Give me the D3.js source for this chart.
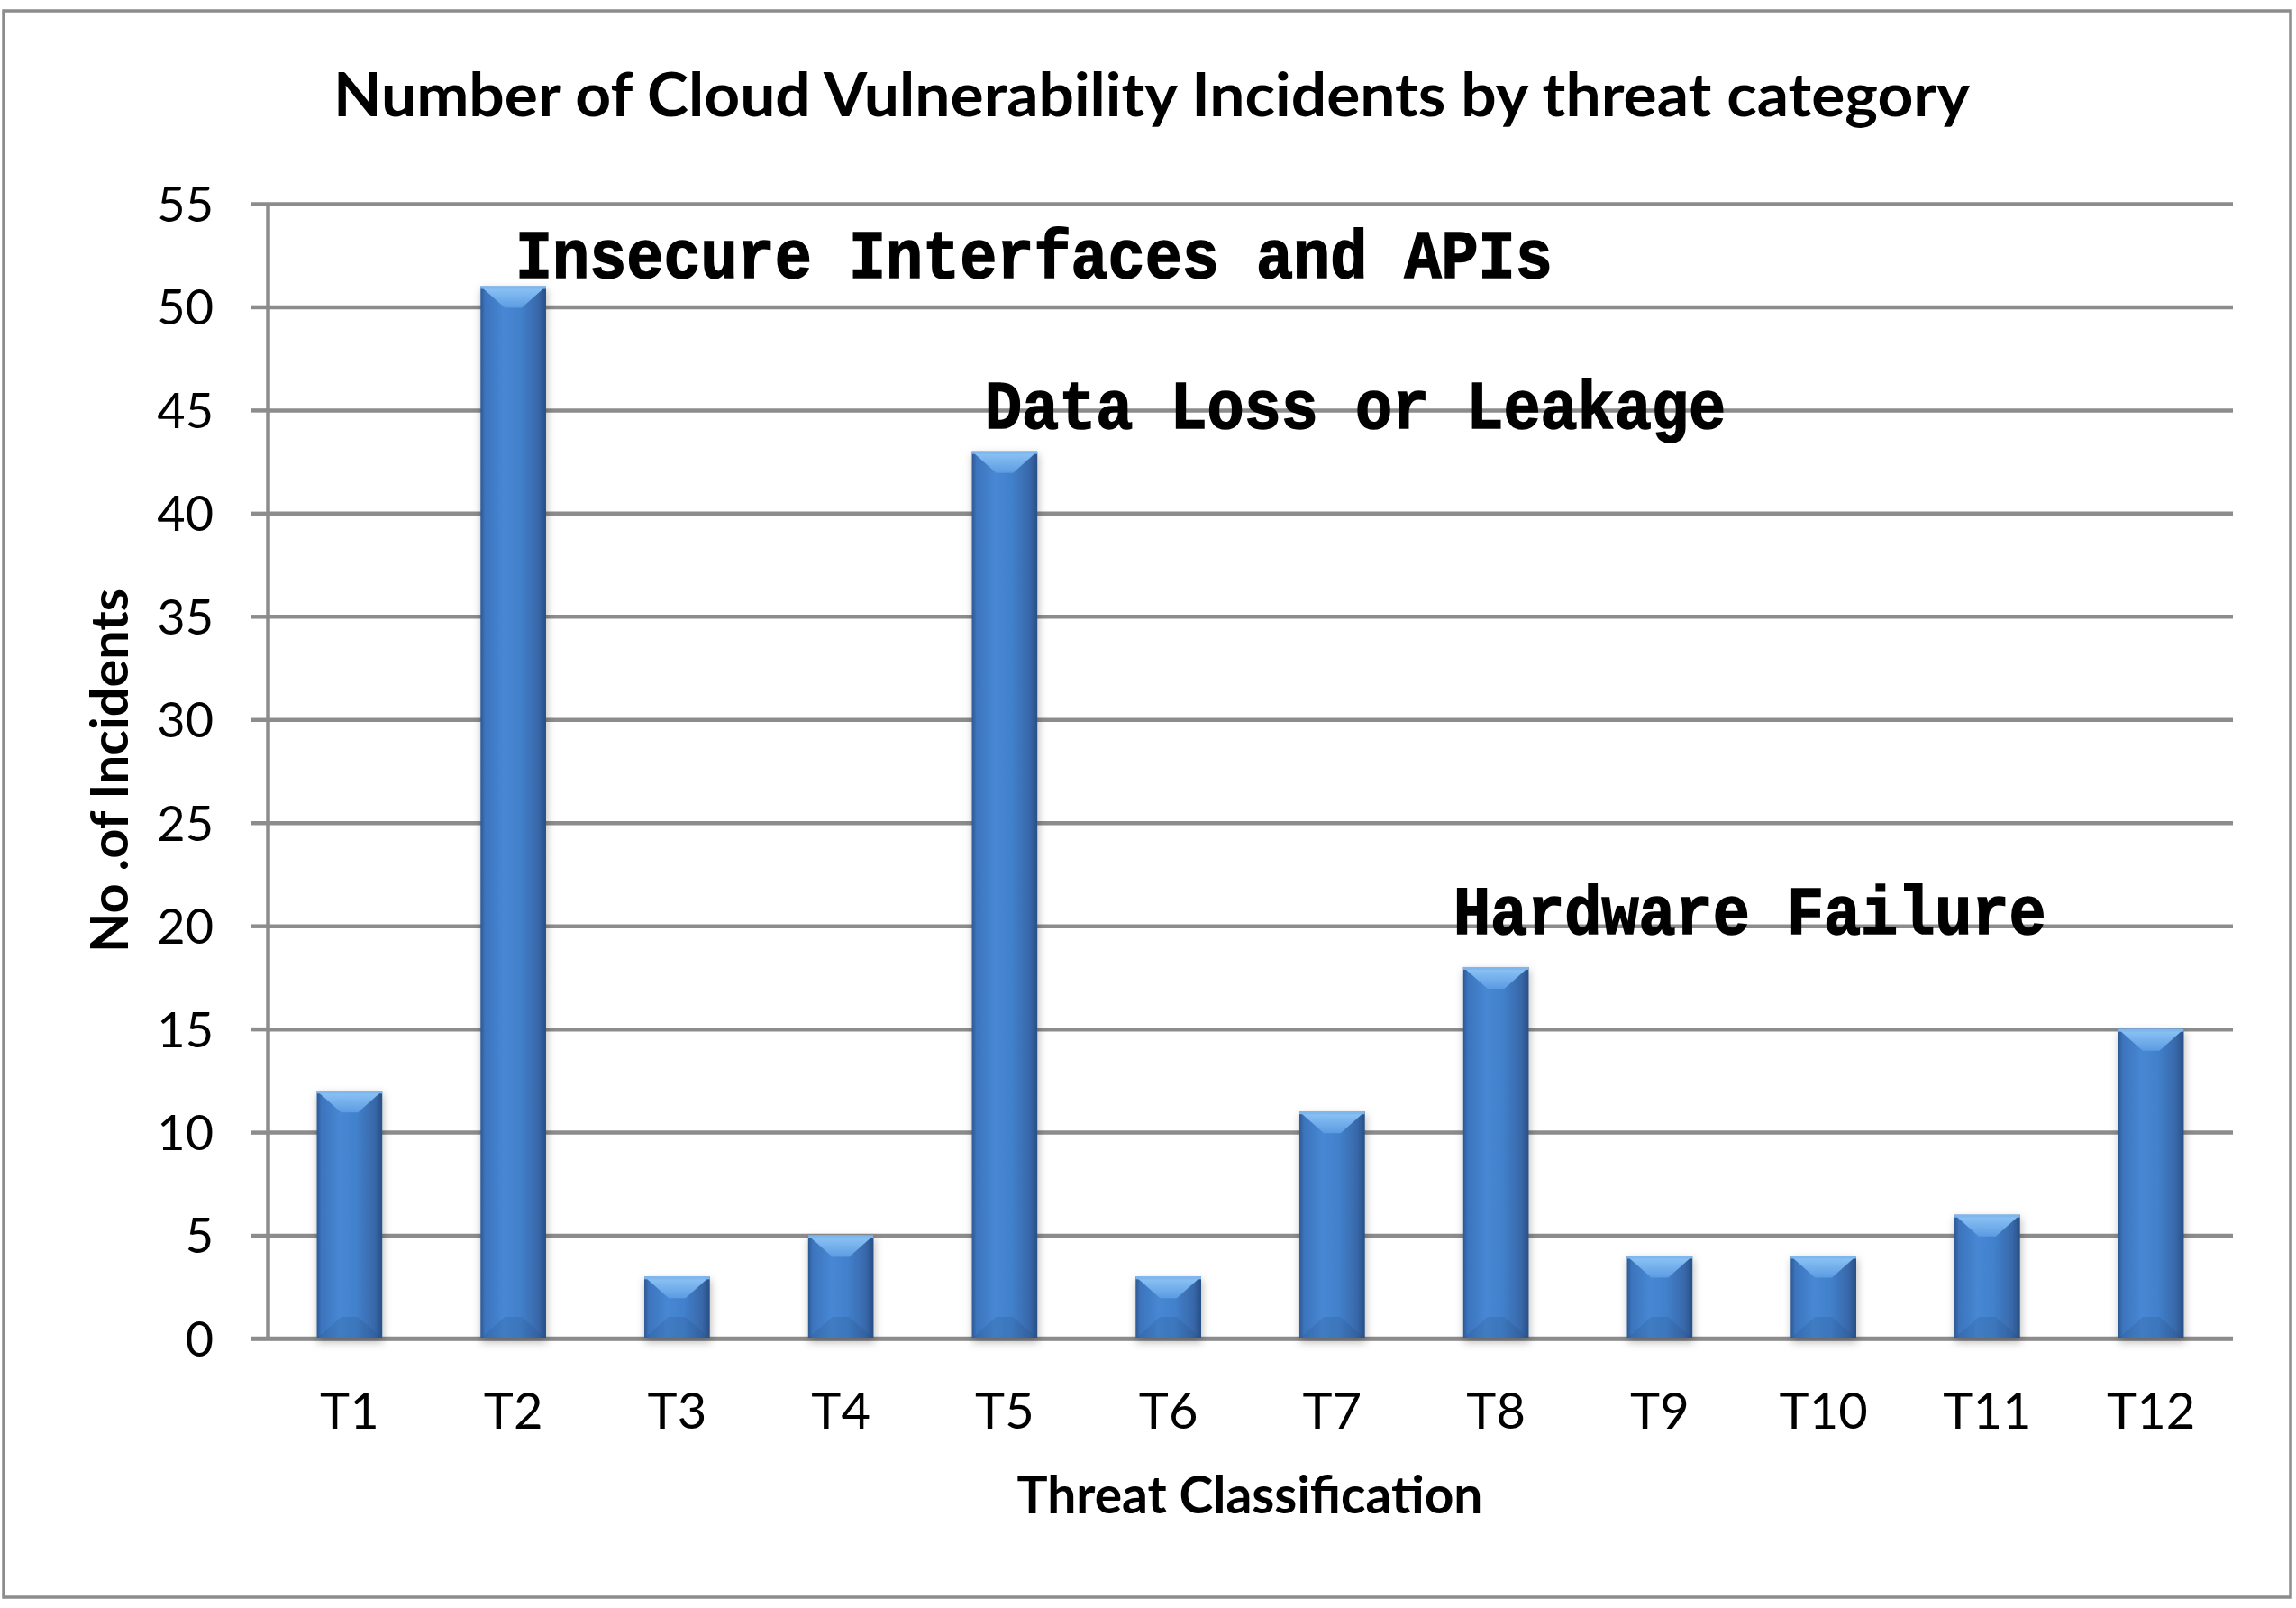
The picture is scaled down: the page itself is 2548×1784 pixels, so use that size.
<!DOCTYPE html>
<html>
<head>
<meta charset="utf-8">
<script src="https://cdn.jsdelivr.net/npm/d3@7/dist/d3.min.js"></script>
<style>
  html, body { margin: 0; padding: 0; background: #fff; }
  svg { display: block; }
</style>
</head>
<body>
<svg id="chart" width="2548" height="1784"></svg>
<script>
// ---- data ----
const categories = ["T1","T2","T3","T4","T5","T6","T7","T8","T9","T10","T11","T12"];
const incidents  = [12, 51, 3, 5, 43, 3, 11, 18, 4, 4, 6, 15];
const yTicks     = [0, 5, 10, 15, 20, 25, 30, 35, 40, 45, 50, 55];
const annotationLabels = ["Insecure Interfaces and APIs", "Data Loss or Leakage", "Hardware Failure"];
const annotationCats   = ["T2", "T5", "T8"];
const titleText  = "Number of Cloud Vulnerability Incidents by threat category";
const xTitleText = "Threat Classification";
const yTitleText = "No .of Incidents";

// ---- layout ----
const W = 2548, H = 1784;
const plot = { left: 297, right: 2478, top: 226, bottom: 1485 };
const svg = d3.select("#chart");

const x = d3.scaleBand().domain(categories).range([plot.left, plot.right])
  .paddingInner(0.6).paddingOuter(0.3);
const y = d3.scaleLinear().domain([0, 55]).range([plot.bottom, plot.top]);

// background + outer border
svg.append("rect").attr("x", 0).attr("y", 0).attr("width", W).attr("height", H).attr("fill", "#fff");
svg.append("rect").attr("x", 4).attr("y", 12).attr("width", 2538).attr("height", 1760)
  .attr("fill", "none").attr("stroke", "#8c8c8c").attr("stroke-width", 3.5);

// defs
const defs = svg.append("defs");
const gBody = defs.append("linearGradient").attr("id", "barBody").attr("x1", "0").attr("x2", "1").attr("y1", "0").attr("y2", "0");
[["0%", "#2d5891"], ["7%", "#3c74bd"], ["35%", "#4787d3"], ["60%", "#4281cc"], ["88%", "#3868aa"], ["100%", "#284f85"]]
  .forEach(s => gBody.append("stop").attr("offset", s[0]).attr("stop-color", s[1]));
const gTop = defs.append("linearGradient").attr("id", "barTop").attr("x1", "0").attr("x2", "0").attr("y1", "0").attr("y2", "1");
[["0%", "#8fc6f6"], ["100%", "#5c9be2"]].forEach(s => gTop.append("stop").attr("offset", s[0]).attr("stop-color", s[1]));
const shadow = defs.append("filter").attr("id", "shadow").attr("x", "-50%").attr("y", "-10%").attr("width", "200%").attr("height", "130%");
shadow.append("feDropShadow").attr("dx", 1).attr("dy", 4).attr("stdDeviation", 5)
  .attr("flood-color", "#000").attr("flood-opacity", 0.28);

// gridlines
const grid = svg.append("g").attr("transform", `translate(${plot.left},0)`)
  .call(d3.axisLeft(y).tickValues(yTicks).tickSize(-(plot.right - plot.left)).tickFormat(""));
grid.select(".domain").remove();
grid.selectAll(".tick line").attr("stroke", "#8c8c8c").attr("stroke-width", 4.5);

// y axis
const yAxis = svg.append("g").attr("transform", `translate(${plot.left},0)`)
  .call(d3.axisLeft(y).tickValues(yTicks).tickSize(19).tickSizeOuter(0).tickPadding(41));
yAxis.select(".domain").attr("stroke", "#8c8c8c").attr("stroke-width", 4.5);
yAxis.selectAll(".tick line").attr("stroke", "#8c8c8c").attr("stroke-width", 4.5);
yAxis.selectAll(".tick text").attr("font-family", "Lato, 'Open Sans', sans-serif")
  .attr("font-size", 54).attr("fill", "#000").attr("dy", "0.36em");

// x axis labels
const xAxis = svg.append("g").attr("transform", `translate(0,${plot.bottom})`)
  .call(d3.axisBottom(x).tickSize(0).tickSizeOuter(0));
xAxis.select(".domain").attr("stroke", "#8c8c8c").attr("stroke-width", 4.5)
  .attr("d", `M${plot.left - 19},0H${plot.right}`);
xAxis.selectAll(".tick text").attr("font-family", "Lato, 'Open Sans', sans-serif")
  .attr("font-size", 56).attr("fill", "#000").attr("y", 100).attr("dy", 0);

// bars
const bw = x.bandwidth();
const bars = svg.append("g").selectAll("g.bar").data(categories.map((c, i) => ({ c, v: incidents[i] })))
  .enter().append("g").attr("class", "bar").attr("filter", "url(#shadow)");
bars.append("rect")
  .attr("x", d => x(d.c)).attr("y", d => y(d.v))
  .attr("width", bw).attr("height", d => y(0) - y(d.v))
  .attr("fill", "url(#barBody)");
bars.append("path").attr("fill", "url(#barTop)").attr("d", d => {
  const x0 = x(d.c), x1 = x0 + bw, t = y(d.v), h = y(0) - y(d.v);
  const dep = Math.min(24, h / 2), ins = Math.min(bw / 2, 27);
  return `M${x0},${t}H${x1}L${x1 - ins},${t + dep}H${x0 + ins}Z`;
});
bars.append("path").attr("fill", "#23477a").attr("opacity", 0.18).attr("d", d => {
  const x0 = x(d.c), x1 = x0 + bw, b = y(0), h = y(0) - y(d.v);
  const dep = Math.min(24, h / 2), ins = Math.min(bw / 2, 27);
  return `M${x0},${b}H${x1}L${x1 - ins},${b - dep}H${x0 + ins}Z`;
});
bars.append("rect")
  .attr("x", d => x(d.c)).attr("y", d => y(d.v))
  .attr("width", bw).attr("height", 3).attr("fill", "#7fb6ee");

// annotations
const annBaseline = [308, 475, 1036];
const annStart = [572, 1093, 1613];
svg.append("g").selectAll("text").data(annotationLabels).enter().append("text")
  .attr("x", (d, i) => annStart[i])
  .attr("y", (d, i) => annBaseline[i])
  .attr("font-family", "'Liberation Mono', 'DejaVu Sans Mono', monospace")
  .attr("font-weight", "bold").attr("font-size", 76).attr("fill", "#000")
  .attr("stroke", "#000").attr("stroke-width", 1.6)
  .attr("textLength", d => d.length * 41.1).attr("lengthAdjust", "spacingAndGlyphs")
  .text(d => d);

// title
svg.append("text").attr("x", 370).attr("y", 129)
  .attr("font-family", "Lato, 'Open Sans', sans-serif").attr("font-weight", "bold")
  .attr("font-size", 66).attr("fill", "#000")
  .attr("textLength", 1816).attr("lengthAdjust", "spacingAndGlyphs")
  .text(titleText);

// x title
svg.append("text").attr("x", 1387).attr("y", 1679).attr("text-anchor", "middle")
  .attr("font-family", "Lato, 'Open Sans', sans-serif").attr("font-weight", "bold")
  .attr("font-size", 57).attr("fill", "#000")
  .attr("textLength", 517).attr("lengthAdjust", "spacingAndGlyphs")
  .text(xTitleText);

// y title
svg.append("text").attr("transform", "translate(142,855) rotate(-90)").attr("text-anchor", "middle")
  .attr("font-family", "Lato, 'Open Sans', sans-serif").attr("font-weight", "bold")
  .attr("font-size", 57).attr("fill", "#000")
  .attr("textLength", 404).attr("lengthAdjust", "spacingAndGlyphs")
  .text(yTitleText);
</script>
</body>
</html>
